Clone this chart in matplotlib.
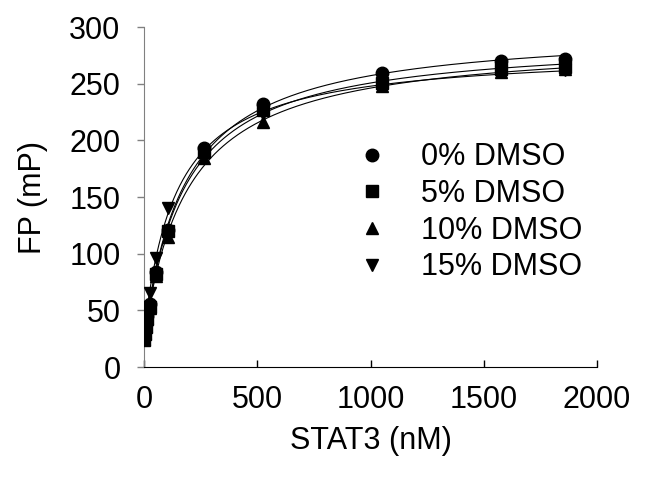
import numpy as np
import matplotlib.pyplot as plt

plt.rcParams['font.family'] = ['Liberation Sans', 'DejaVu Sans']

# STAT3 concentration (nM) and FP readings (mP) for each DMSO level
stat3_nM = [0, 3.3, 6.6, 13, 26, 53, 105, 263, 525, 1050, 1575, 1860]
fp_0 = [26, 32, 38, 45, 56, 84, 121, 193, 232, 259, 270, 272]
fp_5 = [24, 29, 35, 42, 53, 82, 120, 190, 227, 251, 263, 265]
fp_10 = [25, 30, 36, 43, 52, 80, 115, 184, 216, 248, 260, 263]
fp_15 = [29, 35, 43, 53, 65, 96, 140, 188, 223, 249, 260, 262]
labels = ['0% DMSO', '5% DMSO', '10% DMSO', '15% DMSO']
markers = ['o', 's', '^', 'v']
msizes = [9, 8, 9, 9]


def fit_binding(x, y):
    # one-site binding: FP = F0 + Bmax * x / (Kd + x)
    x = np.asarray(x, float)
    y = np.asarray(y, float)
    best = None
    for kd in np.linspace(10, 600, 1200):
        A = np.column_stack([np.ones_like(x), x / (kd + x)])
        coef = np.linalg.lstsq(A, y, rcond=None)[0]
        err = np.sum((A @ coef - y) ** 2)
        if best is None or err < best[0]:
            best = (err, kd, coef)
    return best[1], best[2]


fig = plt.figure(figsize=(6.54, 4.79), dpi=100)
ax = fig.add_axes([0.2202, 0.2338, 0.6927, 0.7098])

xs = np.linspace(0, max(stat3_nM), 400)
for fp, lab, m, ms in zip([fp_0, fp_5, fp_10, fp_15], labels, markers, msizes):
    kd, (f0, bmax) = fit_binding(stat3_nM, fp)
    ax.plot(xs, f0 + bmax * xs / (kd + xs), color='black', lw=0.8, zorder=2)
    ax.plot(stat3_nM, fp, linestyle='none', marker=m, ms=ms, color='black',
            label=lab, zorder=3)

ax.set_xlim(0, 2000)
ax.set_ylim(0, 300)
ax.set_xticks([0, 500, 1000, 1500, 2000])
ax.set_yticks(range(0, 301, 50))

for s in ['top', 'right']:
    ax.spines[s].set_visible(False)
ax.spines['left'].set_color('#808080')
ax.spines['bottom'].set_color('black')

ax.tick_params(axis='x', direction='in', length=5, width=1, pad=13,
               labelsize=22, colors='black')
ax.tick_params(axis='y', direction='out', length=5, width=1, pad=12,
               labelsize=22, color='#808080', labelcolor='black')

ax.set_xlabel('STAT3 (nM)', fontsize=22, labelpad=8)
ax.set_ylabel('FP (mP)', fontsize=22, labelpad=15)

ax.legend(loc='upper left', bbox_to_anchor=(0.541, 0.703),
          bbox_transform=fig.transFigure, frameon=False,
          fontsize=22, handletextpad=1.0, labelspacing=0.22,
          handlelength=1.2, borderpad=0, borderaxespad=0)

fig.savefig('out.png', dpi=100)
